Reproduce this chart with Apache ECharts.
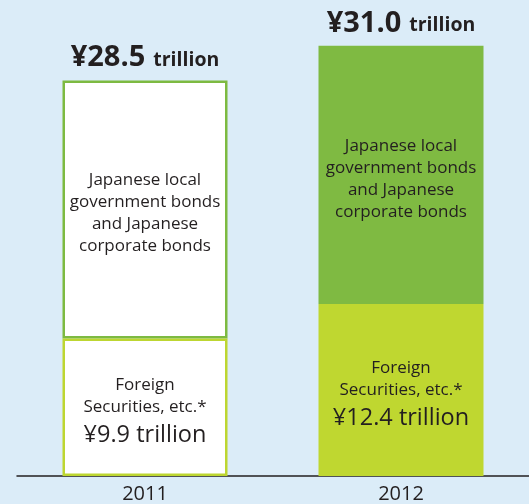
<!DOCTYPE html>
<html><head><meta charset="utf-8">
<script src="https://cdn.jsdelivr.net/npm/echarts@6/dist/echarts.min.js"></script>
<style>html,body{margin:0;padding:0;background:#dbecf8;}#c{width:529px;height:504px;}</style>
</head><body><div id="c"></div>
<script>
const categories = ['2011', '2012'];
const foreign = [9.9, 12.4];
const domestic = [18.6, 18.6];
const totals = ['28.5', '31.0'];
const foreignLabels = ['¥9.9 trillion', '¥12.4 trillion'];

const chart = echarts.init(document.getElementById('c'));
const txt = '#231f20';
const font = '"Open Sans", sans-serif';
chart.setOption({
  backgroundColor: '#dbecf8',
  animation: false,
  grid: {left: 17, right: 0, top: 0, bottom: 25},
  xAxis: {
    type: 'category', data: categories,
    axisLine: {lineStyle: {color: txt, width: 1.5}},
    axisTick: {show: false},
    axisLabel: {color: txt, fontSize: 20, fontFamily: font, margin: 8}
  },
  yAxis: {type: 'value', min: 0, max: 34.3, show: false, splitLine: {show: false}},
  series: [
    {
      type: 'bar', stack: 's', barWidth: 165, z: 3,
      data: foreign.map((v, i) => ({
        value: v,
        itemStyle: i === 0 ? {color: '#ffffff', borderColor: '#bdd631', borderWidth: 2.5} : {color: '#bfd730'}
      })),
      label: {
        show: true, position: 'inside', fontFamily: font, color: txt,
        formatter: p => 'Foreign\nSecurities, etc.*\n{b|' + foreignLabels[p.dataIndex] + '}',
        fontSize: 17, lineHeight: 22, padding: [4, 0, 0, 0],
        rich: {b: {fontSize: 23.5, lineHeight: 26, padding: [8, 0, 0, 0], color: txt, fontFamily: font}}
      }
    },
    {
      type: 'bar', stack: 's', barWidth: 165, z: 2,
      data: domestic.map((v, i) => ({
        value: v,
        itemStyle: i === 0 ? {color: '#ffffff', borderColor: '#7dba41', borderWidth: 2.5} : {color: '#7fba42'}
      })),
      label: {
        show: true, position: 'inside', fontFamily: font, color: txt,
        fontSize: 17, lineHeight: 22, offset: [0, 4],
        formatter: 'Japanese local\ngovernment bonds\nand Japanese\ncorporate bonds'
      }
    },
    {
      type: 'bar', stack: 's', barWidth: 165, silent: true,
      data: [0, 0],
      itemStyle: {color: 'transparent'},
      label: {
        show: true, position: 'top', distance: 8,
        formatter: p => '{a|¥' + totals[p.dataIndex] + '}{s| }{t|trillion}',
        rich: {
          a: {fontSize: 29, fontWeight: 'bold', color: txt, fontFamily: font},
          s: {fontSize: 19, width: 8},
          t: {fontSize: 19.5, fontWeight: 'bold', color: txt, fontFamily: font, padding: [5, 0, 0, 0]}
        }
      }
    }
  ]
});
</script></body></html>
